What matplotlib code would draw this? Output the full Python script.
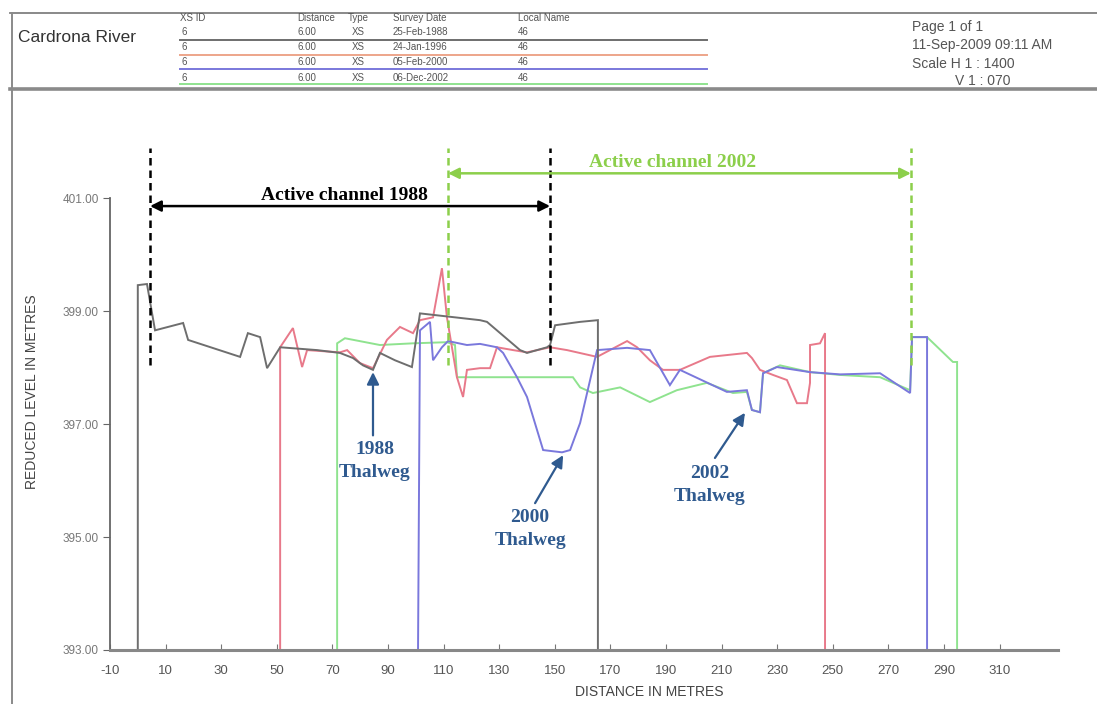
import matplotlib
matplotlib.use("Agg")
import matplotlib.pyplot as plt
from matplotlib.lines import Line2D

plt.rcParams['font.family'] = ['Liberation Sans', 'DejaVu Sans']

# survey cross-sections (distance m, reduced level m)
x88 = [0.0, 0.0, 3.3, 6.2, 16.3, 18.1, 36.8, 39.6, 44.0, 46.5, 51.2, 64.5, 72.7, 77.4,
       81.0, 84.6, 87.1, 92.5, 98.6, 101.5, 123.1, 125.6, 137.5, 140.0, 147.2, 148.3,
       150.1, 159.1, 165.5, 165.5]
y88 = [393.0, 399.46, 399.48, 398.66, 398.79, 398.49, 398.19, 398.61, 398.54, 397.99,
       398.36, 398.31, 398.26, 398.17, 398.04, 397.96, 398.26, 398.13, 398.01, 398.96,
       398.84, 398.81, 398.31, 398.26, 398.36, 398.40, 398.75, 398.81, 398.84, 393.0]

x96 = [51.2, 51.2, 55.8, 59.1, 60.9, 72.7, 75.3, 79.9, 84.6, 89.6, 94.3, 99.0, 101.5,
       106.2, 109.4, 111.2, 114.8, 117.0, 118.4, 123.1, 126.7, 129.2, 135.0, 140.0,
       148.3, 154.4, 165.2, 176.0, 179.6, 184.2, 188.9, 195.0, 205.8, 219.1, 220.9,
       223.8, 228.5, 233.5, 237.1, 240.7, 241.8, 241.8, 245.4, 247.2, 247.2]
y96 = [393.0, 398.36, 398.70, 398.01, 398.31, 398.27, 398.31, 398.08, 397.99, 398.49,
       398.72, 398.61, 398.84, 398.89, 399.76, 398.89, 397.83, 397.48, 397.96, 397.99,
       397.99, 398.36, 398.31, 398.27, 398.36, 398.31, 398.19, 398.47, 398.36, 398.13,
       397.96, 397.96, 398.19, 398.26, 398.17, 397.96, 397.87, 397.78, 397.37, 397.37,
       397.73, 398.40, 398.43, 398.61, 393.0]

x00 = [100.8, 101.5, 105.1, 106.2, 109.4, 111.6, 118.4, 123.1, 129.2, 131.4, 136.4,
       140.0, 145.8, 152.6, 155.5, 159.1, 165.2, 176.0, 184.2, 191.4, 195.0, 211.9,
       219.1, 220.9, 223.8, 224.9, 229.9, 241.8, 252.6, 267.0, 277.8, 278.5, 283.9, 283.9]
y00 = [393.0, 398.66, 398.81, 398.13, 398.36, 398.47, 398.40, 398.42, 398.36, 398.26,
       397.83, 397.48, 396.54, 396.50, 396.54, 397.02, 398.31, 398.35, 398.31, 397.69,
       397.96, 397.57, 397.60, 397.25, 397.21, 397.90, 398.01, 397.92, 397.88, 397.90,
       397.55, 398.54, 398.54, 393.0]

x02 = [71.7, 71.7, 74.5, 87.1, 99.0, 111.2, 114.1, 114.8, 156.5, 159.1, 163.7, 173.5,
       184.2, 193.9, 204.7, 214.1, 219.1, 220.9, 223.8, 224.9, 231.0, 241.8, 252.6,
       267.0, 277.8, 278.5, 283.9, 293.2, 294.7, 294.7]
y02 = [393.0, 398.43, 398.52, 398.40, 398.43, 398.45, 398.40, 397.83, 397.83, 397.65,
       397.55, 397.65, 397.39, 397.60, 397.73, 397.55, 397.57, 397.25, 397.21, 397.90,
       398.04, 397.92, 397.87, 397.83, 397.60, 398.54, 398.54, 398.10, 398.10, 393.0]

xticks = [-10, 10, 30, 50, 70, 90, 110, 130, 150, 170, 190, 210, 230, 250, 270, 290, 310]
yticks = [393, 395, 397, 399, 401]

chan88 = (4.4, 148.3)
chan02 = (111.6, 278.1)

header_cols = ['XS ID', 'Distance', 'Type', 'Survey Date', 'Local Name']
header_rows = [['6', '6.00', 'XS', '25-Feb-1988', '46'],
               ['6', '6.00', 'XS', '24-Jan-1996', '46'],
               ['6', '6.00', 'XS', '05-Feb-2000', '46'],
               ['6', '6.00', 'XS', '06-Dec-2002', '46']]

c88, c96, c00, c02 = '#6e6e6e', '#e8798a', '#7a78dc', '#8fe38f'
blue_txt = '#2f5a8f'
green_txt = '#8ccf4b'

W, H = 1097, 704
fig = plt.figure(figsize=(W / 100, H / 100), dpi=100)


def px(x):
    return x / W


def py(y):
    return 1 - y / H


def fline(x0, y0, x1, y1, **kw):
    fig.add_artist(Line2D([px(x0), px(x1)], [py(y0), py(y1)],
                          transform=fig.transFigure, **kw))


# header box
fline(10, 13, 1097, 13, color='#808080', lw=1.3)
fline(10, 89, 1097, 89, color='#8a8a8a', lw=2.6)
fline(12, 13, 12, 704, color='#8a8a8a', lw=1.4)
fig.text(px(18), py(37), 'Cardrona River', fontsize=12.5, color='#333333', va='center')

col_x = [180, 297, 348, 393, 518]
row_y = [32, 47, 62, 78]
line_y = [40, 55, 69, 84]
for cx, name in zip(col_x, header_cols):
    fig.text(px(cx), py(18), name, fontsize=7, color='#555555', va='center')
for ry, row in zip(row_y, header_rows):
    fig.text(px(181), py(ry), row[0], fontsize=7, color='#555555', va='center')
    fig.text(px(316), py(ry), row[1], fontsize=7, color='#555555', va='center', ha='right')
    fig.text(px(352), py(ry), row[2], fontsize=7, color='#555555', va='center')
    fig.text(px(393), py(ry), row[3], fontsize=7, color='#555555', va='center')
    fig.text(px(518), py(ry), row[4], fontsize=7, color='#555555', va='center')
for ly, c in zip(line_y, [c88, '#eda58a', c00, c02]):
    fline(180, ly, 707, ly, color=c, lw=1.4)

for ty, t in zip([27, 45, 64], ['Page 1 of 1', '11-Sep-2009 09:11 AM', 'Scale H 1 : 1400']):
    fig.text(px(912), py(ty), t, fontsize=10, color='#555555', va='center')
fig.text(px(955), py(81), 'V 1 : 070', fontsize=10, color='#555555', va='center')

# main plot
ax = fig.add_axes([px(110), py(650), px(948), 510 / H])
ax.set_xlim(-10, 331)
ax.set_ylim(393, 402.03)
ax.patch.set_alpha(0)

for xs, ys, c in [(x02, y02, c02), (x96, y96, c96), (x00, y00, c00), (x88, y88, c88)]:
    ax.plot(xs, ys, color=c, lw=1.4, solid_joinstyle='miter')

for s in ['top', 'right']:
    ax.spines[s].set_visible(False)
ax.spines['left'].set_bounds(393, 401)
ax.spines['left'].set_color('#666666')
ax.spines['left'].set_linewidth(1.3)
ax.spines['bottom'].set_color('#888888')
ax.spines['bottom'].set_linewidth(2.2)

ax.set_xticks(xticks)
ax.set_xticklabels([str(v) for v in xticks])
ax.set_yticks(yticks)
ax.set_yticklabels(['%.2f' % v for v in yticks])
ax.tick_params(axis='x', direction='in', length=4, color='#777777', labelsize=9.5,
               labelcolor='#555555', pad=11)
ax.tick_params(axis='y', direction='out', length=5, color='#666666', labelsize=8.5,
               labelcolor='#777777', pad=3)

fig.text(px(32), py(392), 'REDUCED LEVEL IN METRES', rotation=90, fontsize=10,
         color='#444444', ha='center', va='center')
fig.text(px(649), py(692), 'DISTANCE IN METRES', fontsize=10, color='#444444',
         ha='center', va='center')

# active channel markers
dash = dict(lw=1.8, ls=(0, (3, 2)))
for xv in chan88:
    ax.plot([xv, xv], [398.04, 401.88], color='black', **dash)
for xv in chan02:
    ax.plot([xv, xv], [398.04, 401.88], color=green_txt, **dash)

ax.annotate('', xy=(chan88[0], 400.86), xytext=(chan88[1], 400.86),
            arrowprops=dict(arrowstyle='<|-|>', color='black', lw=1.8,
                            mutation_scale=16, shrinkA=0, shrinkB=0))
ax.annotate('', xy=(chan02[0], 401.44), xytext=(chan02[1], 401.44),
            arrowprops=dict(arrowstyle='<|-|>', color=green_txt, lw=1.8,
                            mutation_scale=16, shrinkA=0, shrinkB=0))
serif = dict(family=['Liberation Serif', 'DejaVu Serif'], fontweight='bold', fontsize=14)
ax.text(74.5, 401.05, 'Active channel 1988', color='black', ha='center', va='center', **serif)
ax.text(192.2, 401.64, 'Active channel 2002', color=green_txt, ha='center', va='center', **serif)

# thalweg call-outs
arr = dict(arrowstyle='-|>', color=blue_txt, lw=1.6, mutation_scale=18, shrinkA=0, shrinkB=0)
ax.annotate('', xy=(84.6, 397.92), xytext=(84.6, 396.8), arrowprops=arr)
ax.annotate('', xy=(153.0, 396.45), xytext=(142.9, 395.6), arrowprops=arr)
ax.annotate('', xy=(218.4, 397.2), xytext=(207.6, 396.4), arrowprops=arr)
for tx, ty, lab in [(85.3, 396.35, '1988'), (141.1, 395.14, '2000'), (205.8, 395.92, '2002')]:
    ax.text(tx, ty, lab + '\nThalweg', color=blue_txt, ha='center', va='center',
            linespacing=1.45, **serif)

fig.savefig('out.png', dpi=100)
